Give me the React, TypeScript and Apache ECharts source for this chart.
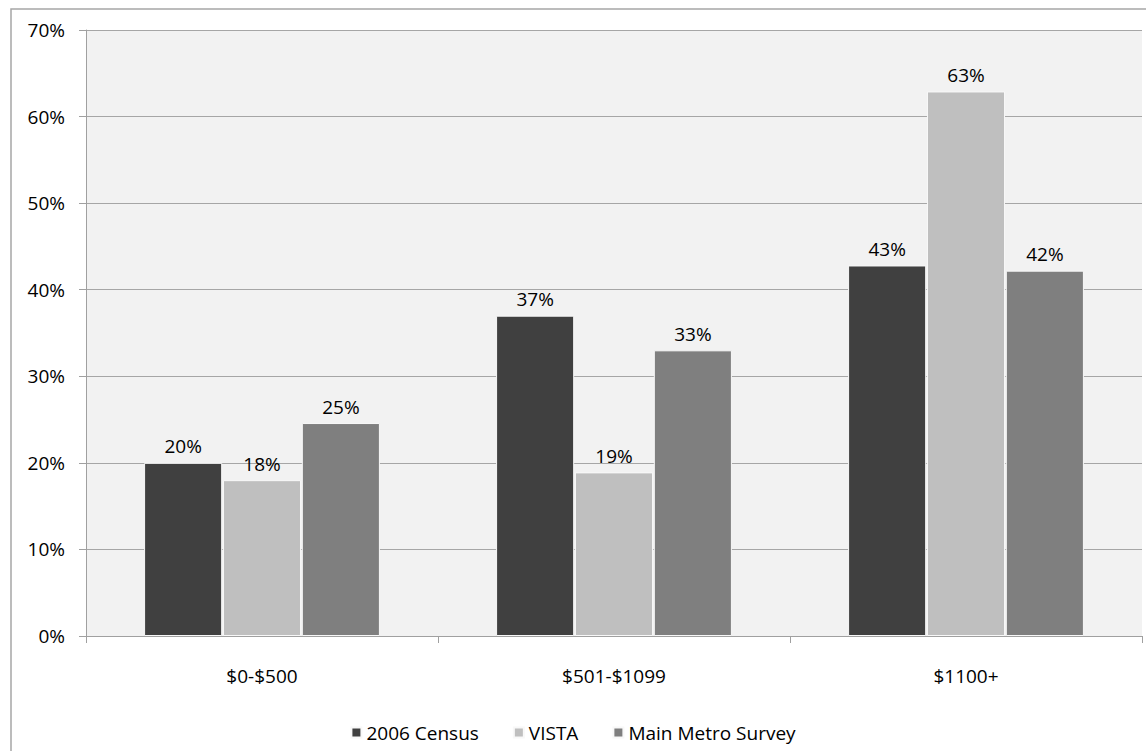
import React, { useEffect, useRef } from "react";
import * as echarts from "echarts";

const categories = ["$0-$500", "$501-$1099", "$1100+"];
const census2006 = [20.0, 37.0, 42.8];
const vista = [18.0, 18.9, 62.9];
const mainMetro = [24.6, 33.0, 42.2];
const seriesNames = ["2006 Census", "VISTA", "Main Metro Survey"];
const seriesColors = ["#404040", "#bfbfbf", "#7f7f7f"];

const FONT = "Open Sans";
const FS = 19;

export default function App() {
  const ref = useRef<HTMLDivElement>(null);
  useEffect(() => {
    if (!ref.current) return;
    const chart = echarts.init(ref.current, undefined, { renderer: "svg" });
    const values = [census2006, vista, mainMetro];
    chart.setOption({
      animation: false,
      backgroundColor: "#ffffff",
      textStyle: { fontFamily: FONT },
      graphic: [
        {
          type: "rect",
          shape: { x: 11, y: 9, width: 1300, height: 900 },
          style: { fill: "none", stroke: "#a6a6a6", lineWidth: 1.5 },
          z: -10,
          silent: true,
        },
      ],
      grid: {
        left: 86,
        right: 4,
        top: 30,
        bottom: 115,
        show: true,
        backgroundColor: "#f2f2f2",
        borderWidth: 0,
      },
      legend: {
        top: 718,
        left: "center",
        itemWidth: 10,
        itemHeight: 10,
        itemGap: 34,
        icon: "rect",
        textStyle: { fontFamily: FONT, fontSize: FS, color: "#000" },
        data: seriesNames,
      },
      xAxis: {
        type: "category",
        data: categories,
        axisLine: { show: true, lineStyle: { color: "#a0a0a0", width: 1 } },
        axisTick: { show: true, length: 7, alignWithLabel: false, lineStyle: { color: "#a0a0a0" } },
        axisLabel: { fontFamily: FONT, fontSize: FS, color: "#000", margin: 30 },
      },
      yAxis: {
        type: "value",
        min: 0,
        max: 70,
        interval: 10,
        axisLine: { show: true, lineStyle: { color: "#a0a0a0", width: 1 } },
        axisTick: { show: true, length: 7, lineStyle: { color: "#a0a0a0" } },
        axisLabel: {
          fontFamily: FONT,
          fontSize: FS,
          color: "#000",
          margin: 21,
          formatter: (v: number) => `${v}%`,
        },
        splitLine: { show: true, lineStyle: { color: "#a6a6a6", width: 1 } },
      },
      series: seriesNames.map((name, i) => ({
        name,
        type: "bar",
        data: values[i],
        barCategoryGap: "33%",
        barGap: "1%",
        itemStyle: { color: seriesColors[i], borderColor: "#f8f8f8", borderWidth: 1 },
        label: {
          show: true,
          position: "top",
          distance: 7,
          fontFamily: FONT,
          fontSize: FS,
          color: "#000",
          formatter: (p: any) => `${Math.round(p.value)}%`,
        },
      })),
    });
    return () => chart.dispose();
  }, []);
  return (
    <div
      ref={ref}
      style={{ position: "fixed", left: 0, top: 0, width: 1146, height: 751 }}
    />
  );
}
